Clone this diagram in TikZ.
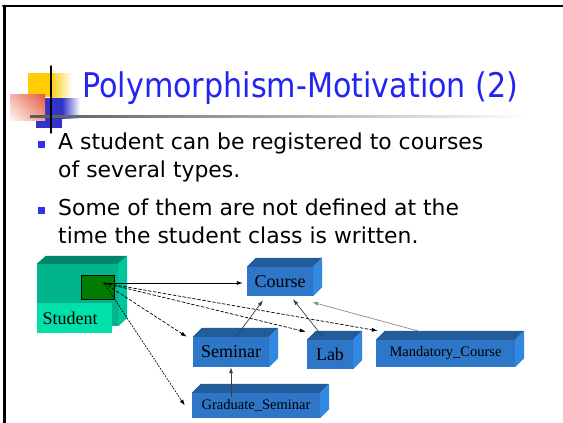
\documentclass[tikz,border=0pt]{standalone}
\usepackage{fontspec}
\usetikzlibrary{arrows.meta,shadings}

\newfontfamily\titlefont[FakeStretch=0.888]{DejaVu Sans}
\newfontfamily\bodyfont{DejaVu Sans}
\newfontfamily\boxfont{Liberation Serif}

\begin{document}
\begin{tikzpicture}
	[x=1pt,y=-1pt,line cap=round,
	%Styles
	title text/.style={anchor=base west,inner sep=0pt,text=titleblue,font=\titlefont\fontsize{34}{34}\selectfont},
	body text/.style={anchor=base west,inner sep=0pt,font=\bodyfont\fontsize{21.9}{22}\selectfont},
	box/.style={fill=boxfront,inner sep=0pt,font=\boxfont\fontsize{18}{18}\selectfont},
	small box/.style={box,font=\boxfont\fontsize{14.5}{14.5}\selectfont},
	label strip/.style={fill=studentlabel,inner sep=0pt,inner xsep=5.5pt,text width=64pt,align=left,minimum height=30,font=\boxfont\fontsize{18}{18}\selectfont},
	has/.style={-{Latex[length=6pt,width=4pt]},line width=0.7pt},
	uses/.style={-{Latex[length=6pt,width=4pt]},line width=0.7pt,dash pattern=on 3pt off 2pt},
	inherits/.style={-{Latex[length=6pt,width=4pt]},draw=black!75,line width=0.7pt}
	]
	
	%Colors
	\definecolor{titleblue}{RGB}{36,36,240}
	\definecolor{bulletblue}{RGB}{50,50,230}
	\definecolor{logoyellow}{RGB}{255,204,0}
	\definecolor{logoblue}{RGB}{51,51,204}
	\definecolor{logored}{RGB}{230,90,60}
	\definecolor{boxfront}{RGB}{45,118,200}
	\definecolor{boxtop}{RGB}{35,92,155}
	\definecolor{boxside}{RGB}{48,136,226}
	\definecolor{studentfront}{RGB}{0,180,140}
	\definecolor{studenttop}{RGB}{0,135,105}
	\definecolor{studentside}{RGB}{0,198,158}
	\definecolor{studentlabel}{RGB}{0,225,170}
	\definecolor{linkgreen}{RGB}{0,125,0}
	
	\useasboundingbox (0,0) rectangle (563,423);
	\fill[white] (0,0) rectangle (563,423);
	
	%Frame
	\draw[line width=3] (4.2,423) -- (4.2,6);
	\draw[line width=2] (3,6) -- (563,6);
	
	%Logo
	\fill[logoyellow] (28,73) rectangle (50,97);
	\shade[left color=logoyellow,right color=white] (50,73) rectangle (72,97);
	\fill[logoblue] (36,98) rectangle (62,128);
	\shade[left color=logoblue,right color=white] (62,98) rectangle (80,118);
	\shade[upper left=logored!45,upper right=logored,lower left=logored!5,lower right=logored!60] (10,94) rectangle (45,120);
	\shade[left color=black!65,right color=white] (30,115) rectangle (530,117);
	\draw[line width=1.5] (51,66) -- (51,133);
	
	%Title and bullets
	\node[title text] (title) at (82,97) {Polymorphism-Motivation (2)};
	\foreach \y in {141,206.5}
		\fill[bulletblue] (37.5,\y) rectangle +(7,7);
	\foreach \y/\txt [count=\i] in {149.5/A student can be registered to courses,177.5/of several types.,215.5/Some of them are not defined at the,243.5/time the student class is written.}
		\node[body text] (line\i) at (58,\y) {\txt};
	
	%Student
	\node[fill=studentfront,inner sep=0pt,minimum width=81,minimum height=62] (student) at (77.5,295) {};
	\fill[studenttop] (student.north west) -- ++(9,-8) -- ([shift={(9,-8)}]student.north east) -- (student.north east) -- cycle;
	\fill[studentside] (student.north east) -- ++(9,-8) -- ([shift={(9,-8)}]student.south east) -- (student.south east) -- cycle;
	\node[label strip] (studentlabel) at (74.5,318) {Student};
	\node[draw,fill=linkgreen,inner sep=0pt,line width=0.8pt,minimum width=33,minimum height=24] (link) at (97.5,287) {};
	\coordinate (hook) at (104,283);
	
	%Course classes
	\node[box,minimum width=66,minimum height=29] (course) at (280,281.5) {Course};
	\node[box,minimum width=76,minimum height=30] (seminar) at (231,352) {Seminar};
	\node[box,minimum width=46,minimum height=29] (lab) at (330,354.5) {Lab};
	\node[small box,minimum width=139,minimum height=27] (mandatory) at (445.5,353.5) {Mandatory\_Course};
	\node[small box,minimum width=128,minimum height=25] (graduate) at (256,405.5) {Graduate\_Seminar};
	\foreach \n in {course,seminar,lab,mandatory,graduate}
	{
		\fill[boxtop] (\n.north west) -- ++(9,-9) -- ([shift={(9,-9)}]\n.north east) -- (\n.north east) -- cycle;
		\fill[boxside] (\n.north east) -- ++(9,-9) -- ([shift={(9,-9)}]\n.south east) -- (\n.south east) -- cycle;
	}
	
	%References
	\draw[has,shorten >=4pt] (hook) -- (hook -| course.west);
	\draw[uses] (hook) -- ([xshift=-6]seminar.north west);
	\draw[uses] (hook) -- ([shift={(-1,-8)}]lab.north west);
	\draw[uses] (hook) -- ([shift={(2,-9)}]mandatory.north west);
	\draw[uses,dash pattern=on 1.5pt off 1.5pt] (hook) -- ([xshift=-7]graduate.west);
	
	%Inheritance
	\draw[inherits] ([xshift=5]seminar.north) -- ([shift={(-17,4)}]course.south);
	\draw[inherits] ([shift={(-8,-4)}]lab.north) -- ([shift={(13,3)}]course.south);
	\draw[inherits,draw=black!45] ([shift={(-28,-9)}]mandatory.north) -- ([shift={(-1,6)}]course.south east);
	\draw[inherits] (seminar.south |- graduate.north) ++(0,4) -- (seminar.south);
\end{tikzpicture}
\end{document}
